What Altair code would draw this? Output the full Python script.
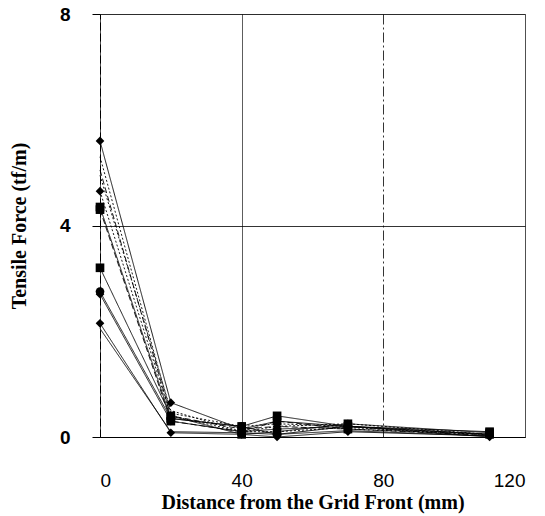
import altair as alt
import pandas as pd

x_mm = [0, 20, 40, 50, 70, 110]
series_names = ["S1", "S2", "S3", "S4", "S5", "S6", "S7", "S8", "S9", "S10", "S11", "S12"]
series_values = [
    [5.6, 0.65, 0.15, 0.30, 0.20, 0.05],
    [4.65, 0.40, 0.10, 0.20, 0.25, 0.05],
    [4.35, 0.35, 0.20, 0.40, 0.20, 0.10],
    [4.30, 0.30, 0.10, 0.30, 0.15, 0.05],
    [3.20, 0.40, 0.05, 0.10, 0.25, 0.08],
    [2.75, 0.35, 0.20, 0.05, 0.20, 0.05],
    [2.70, 0.30, 0.10, 0.15, 0.20, 0.00],
    [2.15, 0.08, 0.05, 0.00, 0.10, 0.02],
    [5.30, 0.45, 0.20, 0.25, 0.20, 0.05],
    [5.05, 0.40, 0.15, 0.20, 0.15, 0.03],
    [4.95, 0.50, 0.10, 0.10, 0.18, 0.04],
    [2.05, 0.10, 0.08, 0.05, 0.12, 0.02],
]
series_marker = ["diamond", "diamond", "square", "square", "square", "circle",
                 "diamond", "diamond", "none", "none", "none", "none"]
series_line = ["solid", "dotted", "solid", "dashed", "solid", "solid",
               "solid", "solid", "dotted", "dashed", "dotted", "solid"]

rows = []
for name, vals, mk, ls in zip(series_names, series_values, series_marker, series_line):
    for x, v in zip(x_mm, vals):
        rows.append({"series": name, "x": x, "y": v, "marker": mk, "line": ls})
df = pd.DataFrame(rows)

xs = alt.Scale(domain=[0, 120], nice=False)
ys = alt.Scale(domain=[0, 8], nice=False)

xenc = alt.X("x:Q", scale=xs, title="Distance from the Grid Front (mm)",
             axis=alt.Axis(values=[0, 40, 80, 120], grid=True, ticks=False,
                           labelPadding=34, labelFont="Liberation Sans", labelFontSize=19,
                           labelColor="black", titleFont="Liberation Serif",
                           titleFontSize=20, titleFontWeight="bold", titleColor="black",
                           titlePadding=2, domainColor="black", gridColor="black",
                           gridWidth=0.8, domainWidth=1,
                           gridDash=alt.condition(alt.datum.value == 80,
                                                  alt.value([10, 3, 2, 3]), alt.value([1, 0]))))
yenc = alt.Y("y:Q", scale=ys, title="Tensile Force (tf/m)",
             axis=alt.Axis(values=[0, 4, 8], grid=True, tickSize=8, tickColor="black",
                           labelPadding=22, labelFont="Liberation Sans", labelFontSize=19,
                           labelColor="black", labelFontWeight="bold",
                           titleFont="Liberation Serif",
                           titleFontSize=20, titleFontWeight="bold", titleColor="black",
                           titlePadding=30, domainColor="black", gridColor="black",
                           gridWidth=0.8, domainWidth=1, domainDash=[8, 3]))

lines = alt.Chart(df).mark_line(color="black", strokeWidth=0.9).encode(
    x=xenc, y=yenc, detail="series:N",
    strokeDash=alt.StrokeDash("line:N", legend=None,
                              scale=alt.Scale(domain=["solid", "dashed", "dotted"],
                                              range=[[1, 0], [6, 3], [2, 2]])),
)

points = alt.Chart(df).transform_filter(alt.datum.marker != "none").mark_point(
    filled=True, color="black", opacity=1, size=75).encode(
    x="x:Q", y="y:Q",
    shape=alt.Shape("marker:N", legend=None,
                    scale=alt.Scale(domain=["diamond", "square", "circle"],
                                    range=["diamond", "square", "circle"])),
)

chart = (lines + points).properties(
    width=425, height=423,
    padding={"left": 9, "top": 5, "right": 15, "bottom": 5},
).configure_view(stroke="black", strokeWidth=1).configure(background="white")

chart.save("out.html", embed_options={"renderer": "svg", "actions": False})
